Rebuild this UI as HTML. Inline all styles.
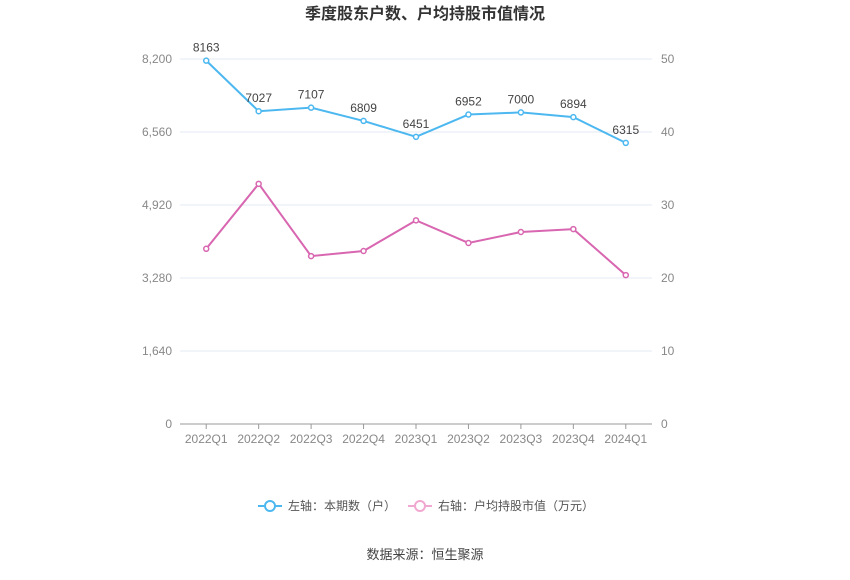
<!DOCTYPE html>
<html><head><meta charset="utf-8">
<style>
body{margin:0;background:#fff;font-family:"Liberation Sans","Noto Sans CJK SC",sans-serif;}
svg text{font-family:"Liberation Sans","Noto Sans CJK SC",sans-serif;}
</style></head>
<body>
<svg id="chart" width="850" height="575" viewBox="0 0 850 575">
<text x="425" y="19" text-anchor="middle" font-size="16" font-weight="bold" fill="#333">季度股东户数、户均持股市值情况</text>
<g id="grid"></g><g id="axes"></g><g id="series"></g>
<g>
<line x1="258" y1="506" x2="282" y2="506" stroke="#4db8f0" stroke-width="2"/>
<circle cx="270" cy="506" r="5" fill="#fff" stroke="#4db8f0" stroke-width="2"/>
<text x="288" y="510" font-size="12" fill="#555">左轴：本期数（户）</text>
<line x1="408" y1="506" x2="432" y2="506" stroke="#f0a8d0" stroke-width="2"/>
<circle cx="420" cy="506" r="5" fill="#fff" stroke="#f0a8d0" stroke-width="2"/>
<text x="438" y="510" font-size="12" fill="#555">右轴：户均持股市值（万元）</text>
</g>
<text x="425" y="559" text-anchor="middle" font-size="13" fill="#444">数据来源：恒生聚源</text>
</svg>
<script>
const categories=["2022Q1","2022Q2","2022Q3","2022Q4","2023Q1","2023Q2","2023Q3","2023Q4","2024Q1"];
const holders=[8163,7027,7107,6809,6451,6952,7000,6894,6315];
const avgValue=[24.0,32.9,23.0,23.7,27.9,24.8,26.3,26.7,20.4];
const leftTicks=[0,1640,3280,4920,6560,8200];
const rightTicks=[0,10,20,30,40,50];
const NS="http://www.w3.org/2000/svg";
const x0=180,x1=652,yB=424,yT=59;
const xs=i=>x0+(x1-x0)/categories.length*(i+0.5);
const yL=v=>yB-(v/8200)*(yB-yT);
const yR=v=>yB-(v/50)*(yB-yT);
function mk(tag,attrs,parent,text){const e=document.createElementNS(NS,tag);for(const k in attrs)e.setAttribute(k,attrs[k]);if(text!==undefined)e.textContent=text;parent.appendChild(e);return e;}
const grid=document.getElementById('grid'),axes=document.getElementById('axes'),ser=document.getElementById('series');
leftTicks.forEach((t,i)=>{
 const y=yL(t);
 const l=mk('line',{x1:x0,x2:x1,y1:y,y2:y,stroke:i===0?'#999':'#e3e8f0','stroke-width':1},grid);
 
 
 const tx=mk('text',{x:x0-8,y:y+4,'text-anchor':'end','font-size':12,fill:'#888'},axes,t.toLocaleString('en-US'));
 
 
});
rightTicks.forEach(t=>{
 const tx=mk('text',{x:x1+9,y:yR(t)+4,'text-anchor':'start','font-size':12,fill:'#888'},axes,String(t));
 
 
});
categories.forEach((c,i)=>{
 const tk=mk('line',{x1:xs(i),x2:xs(i),y1:yB,y2:yB+5,stroke:'#999'},axes);
 
 
 const tx=mk('text',{x:xs(i),y:yB+19,'text-anchor':'middle','font-size':12,fill:'#888'},axes,c);
 
 
});
function series(vals,yf,color,name,labels){
 const p=mk('polyline',{points:vals.map((v,i)=>xs(i)+','+yf(v)).join(' '),fill:'none',stroke:color,'stroke-width':2},ser);
 
 
 vals.forEach((v,i)=>{
  const c=mk('circle',{cx:xs(i),cy:yf(v),r:2.5,fill:'#fff',stroke:color,'stroke-width':1.5},ser);
  
  
  if(labels){
   const t=mk('text',{x:xs(i),y:yf(v)-9,'text-anchor':'middle','font-size':12,fill:'#444'},ser,String(v));
   
   
  }
 });
}
series(avgValue,yR,'#d866b0','avg-value',false);
series(holders,yL,'#4db8f0','holders',true);
</script>
</body></html>
